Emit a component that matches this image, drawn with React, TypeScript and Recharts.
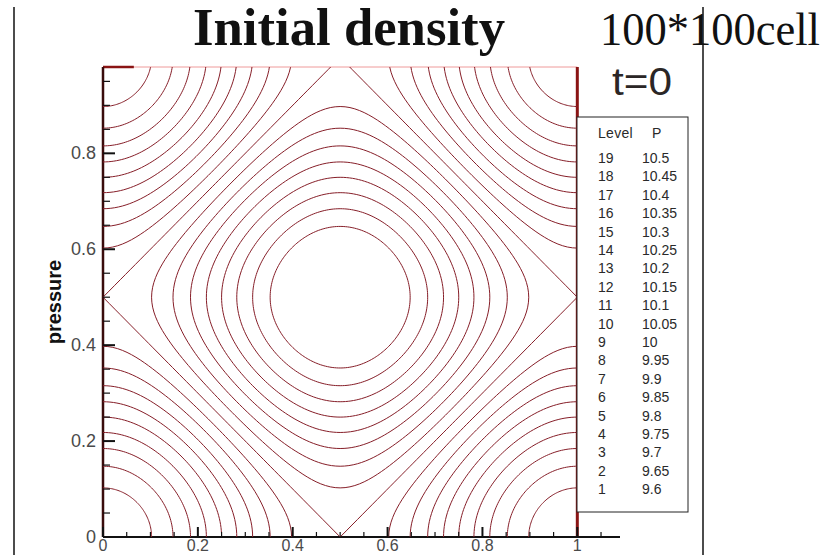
import React from 'react'
import { ReferenceLine, Scatter, ScatterChart, XAxis, YAxis } from 'recharts'

// contour levels as listed in the level table
const levelIds = [19, 18, 17, 16, 15, 14, 13, 12, 11, 10, 9, 8, 7, 6, 5, 4, 3, 2, 1]
const levelValues = [
  10.5, 10.45, 10.4, 10.35, 10.3, 10.25, 10.2, 10.15, 10.1, 10.05, 10, 9.95, 9.9,
  9.85, 9.8, 9.75, 9.7, 9.65, 9.6,
]

// initial field: p = mean + amp * (cos 2πx + cos 2πy)
const fieldMean = 10
const fieldAmp = 0.25

const xTicks = [
  0, 0.05, 0.1, 0.15, 0.2, 0.25, 0.3, 0.35, 0.4, 0.45, 0.5, 0.55, 0.6, 0.65, 0.7, 0.75,
  0.8, 0.85, 0.9, 0.95, 1, 1.05,
]
const yTicks = [
  0, 0.05, 0.1, 0.15, 0.2, 0.25, 0.3, 0.35, 0.4, 0.45, 0.5, 0.55, 0.6, 0.65, 0.7, 0.75,
  0.8, 0.85, 0.9, 0.95,
]
const majorTicks = [0, 0.2, 0.4, 0.6, 0.8, 1]

const CONTOUR = '#861e28'
const FRAME = '#8a1414'
const TICK_FONT = '"Liberation Sans", Arial, sans-serif'

type Pt = { x: number; y: number }

const field = (x: number, y: number) =>
  fieldMean + fieldAmp * (Math.cos(2 * Math.PI * x) + Math.cos(2 * Math.PI * y))

// bisection along a ray from (ox, oy) for the point where the field reaches `level`
function crossing(ox: number, oy: number, dx: number, dy: number, rMax: number, level: number): Pt {
  const s0 = Math.sign(field(ox, oy) - level)
  let lo = 0
  let hi = rMax
  for (let i = 0; i < 40; i++) {
    const mid = (lo + hi) / 2
    if (Math.sign(field(ox + dx * mid, oy + dy * mid) - level) === s0) lo = mid
    else hi = mid
  }
  const r = (lo + hi) / 2
  return { x: ox + dx * r, y: oy + dy * r }
}

function contourPaths(level: number): Pt[][] {
  const peak = fieldMean + 2 * fieldAmp
  if (level >= peak - 1e-9) return []
  if (level > fieldMean) {
    // quarter arcs round each corner
    const corners = [
      [0, 0, 1, 1],
      [1, 0, -1, 1],
      [0, 1, 1, -1],
      [1, 1, -1, -1],
    ]
    return corners.map(([ox, oy, sx, sy]) => {
      const pts: Pt[] = []
      for (let i = 0; i <= 60; i++) {
        const t = (i / 60) * (Math.PI / 2)
        const c = Math.cos(t)
        const s = Math.sin(t)
        pts.push(crossing(ox, oy, sx * c, sy * s, 0.5 / (c + s), level))
      }
      return pts
    })
  }
  // closed loop round the centre (the diamond at the mean value)
  const pts: Pt[] = []
  for (let i = 0; i <= 240; i++) {
    const t = Math.PI / 4 + (i / 240) * Math.PI * 2
    const c = Math.cos(t)
    const s = Math.sin(t)
    pts.push(crossing(0.5, 0.5, c, s, 0.5 / (Math.abs(c) + Math.abs(s)), level))
  }
  return [pts]
}

const contourSeries = levelValues.flatMap((v, li) =>
  contourPaths(v).map((pts, k) => ({ key: `L${levelIds[li]}-${k}`, pts }))
)

const isMajor = (v: number) => majorTicks.some((m) => Math.abs(m - v) < 1e-6)
const fmt = (v: number) => String(Math.round(v * 100) / 100)

function XTick(props: any) {
  const { x, y, payload } = props
  const major = isMajor(payload.value)
  return (
    <g>
      <line
        x1={x}
        x2={x}
        y1={y}
        y2={y - (major ? 10 : 5)}
        stroke="#111"
        strokeWidth={major ? 2 : 1.2}
      />
      {major && (
        <text x={x} y={y + 14} textAnchor="middle" fontSize={16} fill="#4a4a4a" fontFamily={TICK_FONT}>
          {fmt(payload.value)}
        </text>
      )}
    </g>
  )
}

function YTick(props: any) {
  const { x, y, payload } = props
  const major = isMajor(payload.value)
  return (
    <g>
      <line
        x1={x}
        x2={x + (major ? 12 : 7)}
        y1={y}
        y2={y}
        stroke="#111"
        strokeWidth={major ? 2 : 1.2}
      />
      {major && (
        <text x={x - 7} y={y + 6} textAnchor="end" fontSize={18} fill="#4a4a4a" fontFamily={TICK_FONT}>
          {fmt(payload.value)}
        </text>
      )}
    </g>
  )
}

const noMarker = () => <g />

function LevelTable() {
  const rowTop = 158
  const rowStep = 18.4
  return (
    <g fontFamily={TICK_FONT} fontSize={14} fill="#2a2a2a">
      <rect x={577} y={117} width={111} height={395} fill="#fff" stroke="#222" strokeWidth={1} />
      <text x={598} y={138} letterSpacing={0.3}>
        Level
      </text>
      <text x={652} y={138}>
        P
      </text>
      {levelIds.map((id, i) => (
        <g key={id}>
          <text x={598} y={rowTop + i * rowStep + 5}>
            {id}
          </text>
          <text x={642} y={rowTop + i * rowStep + 5}>
            {levelValues[i]}
          </text>
        </g>
      ))}
    </g>
  )
}

export default function App() {
  return (
    <div style={{ position: 'absolute', left: 0, top: 0, width: 840, height: 555, background: '#fff' }}>
      <ScatterChart width={840} height={555} margin={{ top: 67, right: 220, bottom: 0, left: 43 }}>
        <XAxis
          type="number"
          dataKey="x"
          domain={[0, 1.09]}
          ticks={xTicks}
          interval={0}
          height={18}
          tickSize={0}
          tickMargin={0}
          tickLine={false}
          axisLine={{ stroke: '#111', strokeWidth: 2 }}
          tick={XTick}
          allowDataOverflow
        />
        <YAxis
          type="number"
          dataKey="y"
          domain={[0, 0.98]}
          ticks={yTicks}
          interval={0}
          width={60}
          tickSize={0}
          tickMargin={0}
          tickLine={false}
          axisLine={{ stroke: '#3a0c0c', strokeWidth: 2.5 }}
          tick={YTick}
          allowDataOverflow
        />
        {contourSeries.map((s) => (
          <Scatter
            key={s.key}
            data={s.pts}
            line={{ stroke: CONTOUR, strokeWidth: 1 }}
            lineType="joint"
            shape={noMarker}
            isAnimationActive={false}
          />
        ))}
        <ReferenceLine
          segment={[
            { x: 0, y: 0.98 },
            { x: 1, y: 0.98 },
          ]}
          stroke="#ef9a9a"
          strokeWidth={1}
        />
        <ReferenceLine
          segment={[
            { x: 0, y: 0.98 },
            { x: 0.065, y: 0.98 },
          ]}
          stroke={FRAME}
          strokeWidth={2.5}
        />
        <ReferenceLine
          segment={[
            { x: 1, y: 0 },
            { x: 1, y: 0.98 },
          ]}
          stroke={FRAME}
          strokeWidth={3}
        />
      </ScatterChart>
      <svg
        width={840}
        height={555}
        style={{ position: 'absolute', left: 0, top: 0, pointerEvents: 'none' }}
      >
        <line x1={14} x2={14} y1={7} y2={555} stroke="#111" strokeWidth={1.5} />
        <line x1={703} x2={703} y1={7} y2={555} stroke="#111" strokeWidth={1.5} />
        <text
          x={193}
          y={45}
          fontFamily='"Liberation Serif", "DejaVu Serif", serif'
          fontWeight="bold"
          fontSize={52}
          textLength={312}
          lengthAdjust="spacingAndGlyphs"
          fill="#111"
        >
          Initial density
        </text>
        <text
          x={600}
          y={45}
          fontFamily='"Liberation Serif", "DejaVu Serif", serif'
          fontSize={46}
          textLength={220}
          lengthAdjust="spacingAndGlyphs"
          fill="#111"
        >
          100*100cell
        </text>
        <text
          x={612}
          y={95}
          fontFamily={TICK_FONT}
          fontSize={38}
          textLength={60}
          lengthAdjust="spacingAndGlyphs"
          fill="#2b2626"
        >
          t=0
        </text>
        <text
          x={0}
          y={0}
          transform="translate(61 302) rotate(-90)"
          textAnchor="middle"
          fontFamily={TICK_FONT}
          fontWeight="bold"
          fontSize={20}
          fill="#111"
        >
          pressure
        </text>
        <LevelTable />
      </svg>
    </div>
  )
}
